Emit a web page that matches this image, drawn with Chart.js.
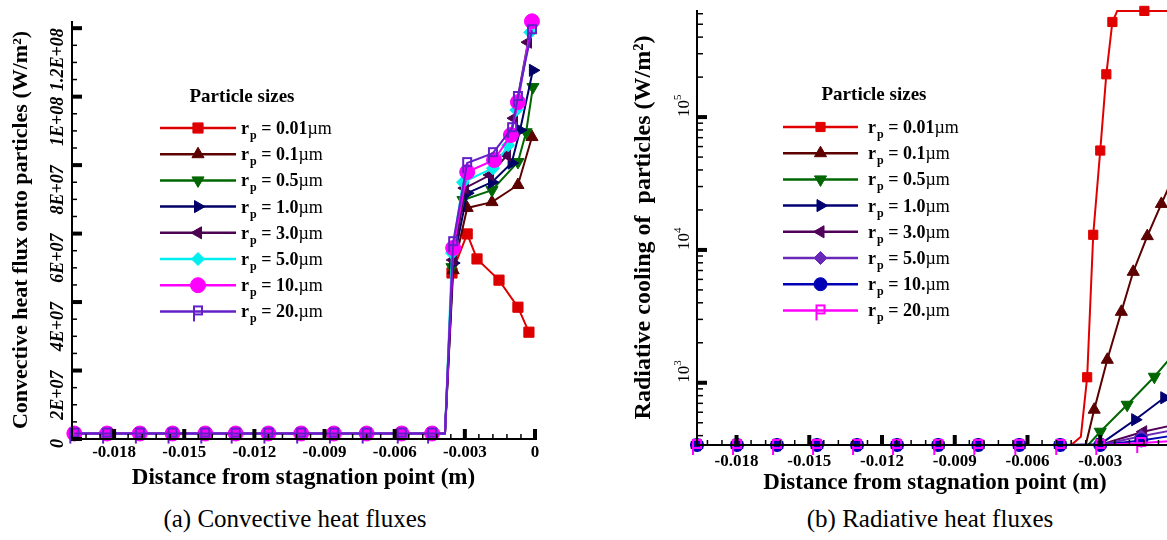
<!DOCTYPE html>
<html>
<head>
<meta charset="utf-8">
<script src="https://cdn.jsdelivr.net/npm/chart.js@4.4.0/dist/chart.umd.min.js"></script>
<style>
html, body { margin: 0; padding: 0; background: #fff; }
#wrap { position: relative; width: 1167px; height: 540px; overflow: hidden; }
#convChart { position: absolute; left: 0; top: 0; }
#radChart { position: absolute; left: 600px; top: 0; }
.cap { position: absolute; top: 506px; font-family: "Liberation Serif", serif; font-size: 25px; line-height: 1; color: #000; transform: translateX(-50%); white-space: nowrap; }
</style>
</head>
<body>
<div id="wrap">
  <canvas id="convChart" width="590" height="500"></canvas>
  <canvas id="radChart" width="620" height="500"></canvas>
  <div class="cap" style="left:295px">(a) Convective heat fluxes</div>
  <div class="cap" style="left:930px">(b) Radiative heat fluxes</div>
</div>
<script>
// particle radii (µm) shown in both legends
const sizeLabels = ['0.01', '0.1', '0.5', '1.0', '3.0', '5.0', '10.', '20.'];

// tick labels
const xTickValues = [-0.018, -0.015, -0.012, -0.009, -0.006, -0.003, 0];
const xTickLabels = ['-0.018', '-0.015', '-0.012', '-0.009', '-0.006', '-0.003', '0'];
const convYTickValues = [0, 2e7, 4e7, 6e7, 8e7, 1e8, 1.2e8];
const convYTickLabels = ['0', '2E+07', '4E+07', '6E+07', '8E+07', '1E+08', '1.2E+08'];
const radYTickExponents = [3, 4, 5];

// (a) convective heat flux onto particles, W/m2
const convBaseX = [-0.0197, -0.0183, -0.0169, -0.0155, -0.0141, -0.0128, -0.0114, -0.0100, -0.0086, -0.0072, -0.0057, -0.0044];
const convBaseY = 1.6e6;
const convKneeX = [-0.00385];
const convRiseX = [
  [-0.00385, -0.00355, -0.0029, -0.00248, -0.00154, -0.00073, -0.00026],
  [-0.00385, -0.0035, -0.0029, -0.00184, -0.00073, -0.00013],
  [-0.00385, -0.00355, -0.00308, -0.00184, -0.00073, -0.00038, -0.00009],
  [-0.00385, -0.0035, -0.0029, -0.00184, -0.001, -0.00064, -0.00009],
  [-0.00385, -0.0035, -0.003, -0.00192, -0.0012, -0.0009, -0.0003],
  [-0.00385, -0.00355, -0.00308, -0.0018, -0.00115, -0.0008, -0.0002],
  [-0.00385, -0.0035, -0.0029, -0.00175, -0.00103, -0.00073, -0.00013],
  [-0.00385, -0.0035, -0.0029, -0.0018, -0.00098, -0.00073, -0.00013]
];
const convRiseY = [
  [1.6e6, 4.85e7, 5.99e7, 5.26e7, 4.64e7, 3.85e7, 3.12e7],
  [1.6e6, 4.93e7, 6.75e7, 6.92e7, 7.42e7, 8.82e7],
  [1.6e6, 5.02e7, 6.98e7, 7.27e7, 8.09e7, 8.96e7, 1.028e8],
  [1.6e6, 5.14e7, 7.18e7, 7.50e7, 8.06e7, 9.02e7, 1.077e8],
  [1.6e6, 5.23e7, 7.33e7, 7.71e7, 8.29e7, 9.37e7, 1.159e8],
  [1.6e6, 5.43e7, 7.50e7, 7.91e7, 8.58e7, 9.61e7, 1.188e8],
  [1.6e6, 5.58e7, 7.80e7, 8.15e7, 8.88e7, 9.84e7, 1.22e8],
  [1.6e6, 5.75e7, 8.06e7, 8.35e7, 9.08e7, 9.99e7, 1.194e8]
];

// (b) radiative cooling of particles, W/m2 (log axis)
const radBaseX = [-0.01963, -0.01798, -0.01633, -0.01468, -0.01303, -0.01138, -0.00968, -0.00803, -0.00634, -0.00465];
const radBaseY = 340;
const radKneeX = [-0.0042, -0.0038, -0.0036, -0.0035, -0.0023, 0];
const radRiseX = [
  [-0.0042, -0.0038, -0.00354, -0.00329, -0.0030, -0.00275, -0.0025, -0.0023, -0.00118, 0],
  [-0.0036, -0.00325, -0.00271, -0.00213, -0.00164, -0.00106, -0.00048, 0],
  [-0.0035, -0.0030, -0.00189, -0.00077, 0],
  [-0.0030, -0.00156, -0.00036, 0],
  [-0.0030, -0.00123, 0],
  [-0.0030, -0.00131, 0],
  [-0.0030, -0.00131, 0],
  [-0.0030, -0.00131, 0]
];
const radRiseY = [
  [340, 393, 1100, 1.3e4, 5.6e4, 2.1e5, 5.2e5, 6.3e5, 6.3e5, 6.3e5],
  [340, 627, 1490, 3420, 6840, 1.27e4, 2.22e4, 3.5e4],
  [340, 428, 683, 1110, 1620],
  [345, 527, 771, 850],
  [342, 428, 480],
  [340, 395, 440],
  [340, 368, 400],
  [340, 352, 365]
];

const SERIF = '"Liberation Serif", "Times New Roman", serif';

// "P" symbol used by Tecplot for the 20 µm series
function makeP(color) {
  const c = document.createElement('canvas');
  c.width = 14; c.height = 26;
  const g = c.getContext('2d');
  g.strokeStyle = color; g.lineWidth = 2;
  g.beginPath();
  g.moveTo(3, 23); g.lineTo(3, 8); g.lineTo(11, 8); g.lineTo(11, 16); g.lineTo(3, 16);
  g.stroke();
  return c;
}

const convStyles = [
  { color: '#dd0000', point: 'rect', r: 7.2 },
  { color: '#5c0000', point: 'triangle', r: 7 },
  { color: '#006600', point: 'triangle', rot: 180, r: 7 },
  { color: '#000066', point: 'triangle', rot: 90, r: 7 },
  { color: '#4c0050', point: 'triangle', rot: -90, r: 7 },
  { color: '#00eeee', point: 'rectRot', r: 6.5 },
  { color: '#ff00ff', point: 'circle', r: 7.5 },
  { color: '#6420c8', point: makeP('#6420c8'), r: 8 }
];
const radStyles = [
  { color: '#e00000', point: 'rect', r: 6.5 },
  { color: '#5c0000', point: 'triangle', r: 7 },
  { color: '#006600', point: 'triangle', rot: 180, r: 7 },
  { color: '#000070', point: 'triangle', rot: 90, r: 7 },
  { color: '#500058', point: 'triangle', rot: -90, r: 7 },
  { color: '#6a28b8', point: 'rectRot', r: 6.5 },
  { color: '#0000b4', point: 'circle', r: 6.5 },
  { color: '#ff00ff', point: makeP('#ff00ff'), r: 8 }
];

function buildDatasets(baseX, baseY, riseX, riseY, kneeX, styles) {
  return styles.map((s, i) => {
    const pts = baseX.map(x => ({ x: x, y: baseY }))
      .concat(riseX[i].map((x, j) => ({ x: x, y: riseY[i][j] })));
    return {
      label: 'rp = ' + sizeLabels[i] + 'µm',
      data: pts,
      borderColor: s.color,
      backgroundColor: s.color,
      borderWidth: 2,
      pointStyle: s.point,
      pointRotation: s.rot || 0,
      pointRadius: pts.map(p => kneeX.includes(p.x) ? 0 : s.r),
      pointBorderWidth: 1,
      tension: 0,
      clip: false,
      order: styles.length - 1 - i
    };
  });
}

function tickLine(ctx, x0, y0, x1, y1, w) {
  ctx.lineWidth = w;
  ctx.beginPath(); ctx.moveTo(x0, y0); ctx.lineTo(x1, y1); ctx.stroke();
}

function drawLegend(ctx, styles, o) {
  ctx.fillStyle = '#000';
  ctx.textAlign = 'center'; ctx.textBaseline = 'alphabetic';
  ctx.font = 'bold 19px ' + SERIF;
  ctx.fillText('Particle sizes', o.titleX, o.titleY);
  styles.forEach((s, i) => {
    const y = o.rowY + i * o.rowStep;
    ctx.strokeStyle = s.color; ctx.fillStyle = s.color;
    tickLine(ctx, o.x0, y, o.x1, y, 2.5);
    ctx.lineWidth = 1;
    Chart.helpers.drawPoint(ctx, { pointStyle: s.point, radius: s.r, rotation: s.rot || 0, borderWidth: 1 }, (o.x0 + o.x1) / 2, y);
    ctx.fillStyle = '#000'; ctx.textAlign = 'left';
    let x = o.tx;
    ctx.font = 'bold 18px ' + SERIF;
    ctx.fillText('r', x, y + 6); x += ctx.measureText('r').width + 1;
    ctx.font = 'bold 12px ' + SERIF;
    ctx.fillText('p', x, y + 11); x += ctx.measureText('p').width;
    ctx.font = 'bold 18px ' + SERIF;
    const t = ' = ' + sizeLabels[i];
    ctx.fillText(t, x, y + 6); x += ctx.measureText(t).width;
    ctx.font = '18px ' + SERIF;
    ctx.fillText('µm', x, y + 6);
  });
}

function axesPlugin(o) {
  return {
    id: o.id,
    afterDatasetsDraw(chart) {
      const ctx = chart.ctx, a = chart.chartArea, xs = chart.scales.x, ys = chart.scales.y;
      ctx.save();
      ctx.strokeStyle = '#000'; ctx.fillStyle = '#000';
      ctx.lineWidth = 2;
      ctx.beginPath(); ctx.moveTo(a.left, a.top); ctx.lineTo(a.left, a.bottom); ctx.lineTo(a.right, a.bottom); ctx.stroke();

      // x ticks, pointing into the plot
      for (let k = Math.ceil(xs.min / 0.0006 - 1e-6); k <= 0; k++) {
        const px = xs.getPixelForValue(k * 0.0006);
        tickLine(ctx, px, a.bottom, px, a.bottom - 5, 1.5);
      }
      ctx.font = 'bold 17px ' + SERIF; ctx.textAlign = 'center'; ctx.textBaseline = 'top';
      xTickValues.forEach((v, i) => {
        const px = xs.getPixelForValue(v);
        tickLine(ctx, px, a.bottom + 1, px, a.bottom - 10, 4);
        ctx.fillText(xTickLabels[i], px, a.bottom + o.xLabelGap);
      });

      o.drawY(ctx, ys, a);

      // axis titles
      ctx.textAlign = 'center'; ctx.textBaseline = 'middle';
      ctx.font = 'bold 23px ' + SERIF;
      ctx.fillText('Distance from stagnation point (m)', (a.left + a.right) / 2, o.xTitleY);
      ctx.save();
      ctx.translate(o.yTitleX, (a.top + a.bottom) / 2);
      ctx.rotate(-Math.PI / 2);
      ctx.font = 'bold ' + o.yTitleSize + 'px ' + SERIF;
      ctx.fillText(o.yTitle, 0, 0);
      ctx.restore();

      drawLegend(ctx, o.styles, o.legend);
      ctx.restore();
    }
  };
}

function drawConvY(ctx, ys, a) {
  for (let v = 0; v <= ys.max; v += 5e6) {
    const py = ys.getPixelForValue(v);
    tickLine(ctx, a.left, py, a.left + 5, py, 1.5);
  }
  ctx.font = 'italic bold 18px ' + SERIF; ctx.textAlign = 'right'; ctx.textBaseline = 'middle';
  convYTickValues.forEach((v, i) => {
    const py = ys.getPixelForValue(v);
    tickLine(ctx, a.left - 1, py, a.left + 10, py, 4);
    ctx.save();
    ctx.translate(a.left - 14, py);
    ctx.rotate(-Math.PI / 2);
    ctx.fillText(convYTickLabels[i], 0, 0);
    ctx.restore();
  });
}

function drawRadY(ctx, ys, a) {
  for (let d = 2; d <= 5; d++) {
    for (let m = 2; m <= 9; m++) {
      const v = m * Math.pow(10, d);
      if (v <= ys.min || v >= ys.max) continue;
      const py = ys.getPixelForValue(v);
      tickLine(ctx, a.left, py, a.left + 6, py, 1.5);
    }
  }
  ctx.textAlign = 'left'; ctx.textBaseline = 'middle';
  radYTickExponents.forEach(e => {
    const py = ys.getPixelForValue(Math.pow(10, e));
    tickLine(ctx, a.left - 1, py, a.left + 10, py, 4);
    ctx.save();
    ctx.translate(a.left - 12, py);
    ctx.rotate(-Math.PI / 2);
    ctx.font = '17px ' + SERIF;
    ctx.fillText('10', 0, 0);
    const w = ctx.measureText('10').width;
    ctx.font = '11px ' + SERIF;
    ctx.fillText(String(e), w, -7);
    ctx.restore();
  });
}

const baseOptions = (padding, yScale) => ({
  responsive: false,
  animation: false,
  devicePixelRatio: 1,
  layout: { padding: padding },
  scales: { x: { type: 'linear', display: false }, y: yScale },
  plugins: { legend: { display: false }, tooltip: { enabled: false } }
});

const convOpts = baseOptions({ left: 72, right: 55, top: 21, bottom: 61 }, { type: 'linear', min: 0, max: 1.221e8, display: false });
convOpts.scales.x.min = -0.0198; convOpts.scales.x.max = 0;
new Chart(document.getElementById('convChart'), {
  type: 'line',
  data: { datasets: buildDatasets(convBaseX, convBaseY, convRiseX, convRiseY, convKneeX, convStyles) },
  options: convOpts,
  plugins: [axesPlugin({
    id: 'convAxes', drawY: drawConvY, styles: convStyles,
    xLabelGap: 5, xTitleY: 478, yTitleX: 21, yTitleSize: 22,
    yTitle: 'Convective heat flux onto particles (W/m²)',
    legend: { titleX: 242, titleY: 102, rowY: 128, rowStep: 26.2, x0: 160, x1: 236, tx: 241 }
  })]
});

const radOpts = baseOptions({ left: 97, right: 47, top: 10, bottom: 55 }, { type: 'logarithmic', min: 340, max: 6.4e5, display: false });
radOpts.scales.x.min = -0.01963; radOpts.scales.x.max = 0;
new Chart(document.getElementById('radChart'), {
  type: 'line',
  data: { datasets: buildDatasets(radBaseX, radBaseY, radRiseX, radRiseY, radKneeX, radStyles) },
  options: radOpts,
  plugins: [axesPlugin({
    id: 'radAxes', drawY: drawRadY, styles: radStyles,
    xLabelGap: 8, xTitleY: 483, yTitleX: 44, yTitleSize: 24,
    yTitle: 'Radiative cooling of  particles (W/m²)',
    legend: { titleX: 274, titleY: 100, rowY: 127, rowStep: 26.2, x0: 183, x1: 258, tx: 268 }
  })]
});
</script>
</body>
</html>
